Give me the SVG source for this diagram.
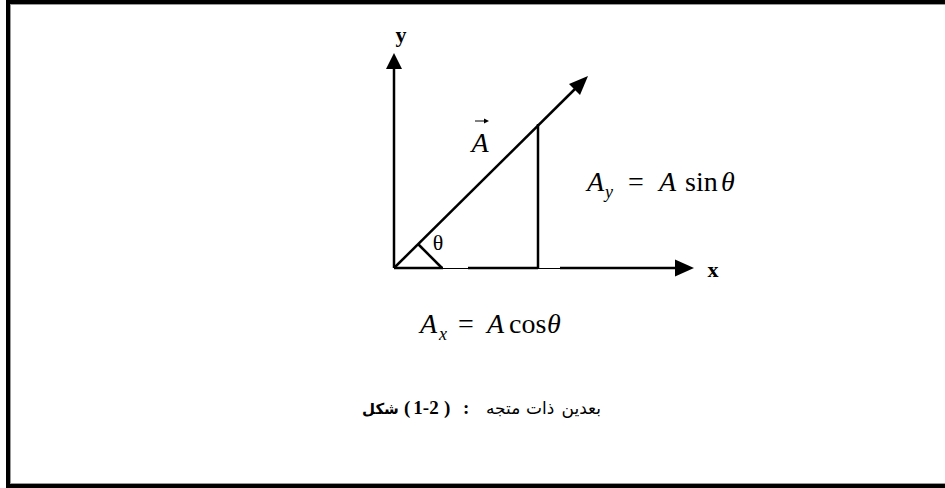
<svg xmlns="http://www.w3.org/2000/svg" width="945" height="488" viewBox="0 0 945 488">
<style>
.ax{stroke:#000;stroke-width:2.5;fill:none}
.thin{stroke:#000;stroke-width:1;fill:none}
.ah{fill:#000;stroke:none}
.m{font-family:"Liberation Serif",serif;font-size:28px;fill:#000}
.mi{font-family:"Liberation Serif",serif;font-size:28px;font-style:italic;fill:#000}
.sub{font-family:"Liberation Serif",serif;font-size:18px;font-style:italic;fill:#000}
.lab{font-family:"Liberation Serif",serif;font-size:22px;font-weight:bold;fill:#000}
.cap{font-family:"DejaVu Sans","Noto Sans",sans-serif;font-size:17px;fill:#000}
.capb{font-family:"Liberation Serif","DejaVu Sans",serif;font-size:19px;font-weight:bold;fill:#000}
.capa{font-family:"DejaVu Sans","Noto Sans",sans-serif;font-size:15px;font-weight:bold;fill:#000}
</style>
<rect x="8" y="2" width="945" height="484" fill="#fff" stroke="#000" stroke-width="4"/>
<rect x="10.5" y="4.5" width="945" height="479" fill="none" stroke="#999" stroke-width="1"/>
<g id="connectors">
  <g id="y-axis">
    <line class="ax" x1="394" y1="268" x2="394" y2="66"/>
    <polygon class="ah" points="394,53 386,69 402,69"/>
  </g>
  <g id="x-axis">
    <line class="thin" x1="394" y1="268.5" x2="680" y2="268.5"/>
    <line class="ax" x1="394" y1="268" x2="443" y2="268"/>
    <line class="ax" x1="468" y1="268" x2="538" y2="268"/>
    <line class="ax" x1="560" y1="268" x2="678" y2="268"/>
    <polygon class="ah" points="694,268 675,259.5 675,276.5"/>
  </g>
  <g id="vector-A">
    <line class="ax" x1="394" y1="268" x2="578" y2="86"/>
    <polygon class="ah" points="588,76 569,84 580,95"/>
  </g>
  <g id="projection">
    <line class="ax" x1="538" y1="124" x2="538" y2="268"/>
  </g>
  <g id="angle-mark">
    <line class="ax" x1="418" y1="244" x2="442" y2="268"/>
  </g>
</g>
<g id="label-y"><text class="lab" x="401" y="42" text-anchor="middle">y</text></g>
<g id="label-x"><text class="lab" x="713" y="277" text-anchor="middle">x</text></g>
<g id="label-theta"><text x="438" y="250" text-anchor="middle" style="font-family:'Liberation Serif',serif;font-size:22px">θ</text></g>
<g id="label-A">
  <text class="mi" x="480" y="152" text-anchor="middle">A</text>
  <line x1="475" y1="121" x2="487" y2="121" stroke="#000" stroke-width="1"/>
  <polygon points="489,121 484,118.5 484,123.5" fill="#000"/>
</g>
<g id="eq-Ay">
  <text class="mi" x="587" y="191">A</text>
  <text class="sub" x="605" y="198">y</text>
  <text class="m" x="628" y="191">=</text>
  <text class="mi" x="659" y="191">A</text>
  <text class="m" x="685" y="191">sin</text>
  <text class="mi" x="721" y="191">θ</text>
</g>
<g id="eq-Ax">
  <text class="mi" x="420" y="333">A</text>
  <text class="sub" x="439" y="340">x</text>
  <text class="m" x="458" y="333">=</text>
  <text class="mi" x="487" y="333">A</text>
  <text class="m" x="509" y="333">cos</text>
  <text class="mi" x="547" y="333">θ</text>
</g>
<g id="caption">
  <text class="capa" x="362" y="414">شكل</text>
  <text class="capb" x="404" y="414">(</text>
  <text class="capb" x="426" y="414" text-anchor="middle">1-2</text>
  <text class="capb" x="444" y="414">)</text>
  <text class="capb" x="463" y="414">:</text>
  <text class="cap" x="486" y="414">متجه</text>
  <text class="cap" x="526" y="414">ذات</text>
  <text class="cap" x="601" y="414" text-anchor="end">بعدين</text>
</g>
</svg>
